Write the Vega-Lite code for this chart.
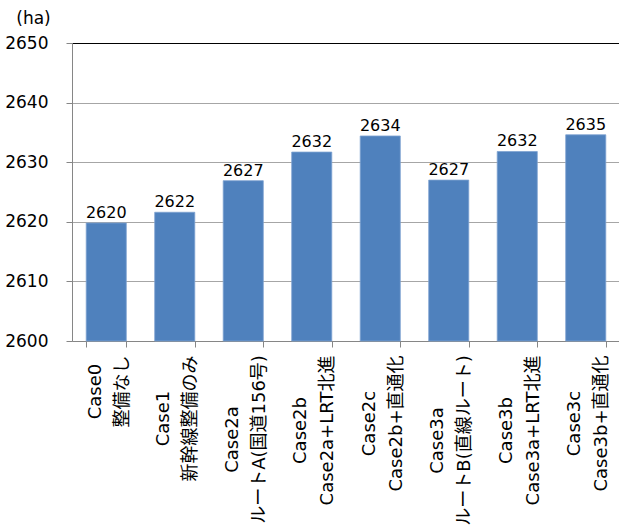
{
  "$schema": "https://vega.github.io/schema/vega-lite/v6.json",
  "width": 548,
  "height": 298,
  "autosize": "none",
  "padding": {"left": 72, "top": 43, "right": 0, "bottom": 190},
  "background": "white",
  "config": {"view": {"stroke": null}},
  "data": {
    "values": [
      {"case": "Case0|整備なし", "value": 2619.8},
      {"case": "Case1|新幹線整備のみ", "value": 2621.6},
      {"case": "Case2a|ルートA(国道156号)", "value": 2626.9},
      {"case": "Case2b|Case2a+LRT北進", "value": 2631.7},
      {"case": "Case2c|Case2b+直通化", "value": 2634.4},
      {"case": "Case3a|ルートB(直線ルート)", "value": 2627.0},
      {"case": "Case3b|Case3a+LRT北進", "value": 2631.8},
      {"case": "Case3c|Case3b+直通化", "value": 2634.6}
    ]
  },
  "encoding": {
    "x": {
      "field": "case",
      "type": "nominal",
      "sort": null,
      "scale": {"paddingInner": 0.415, "paddingOuter": 0.2075},
      "axis": {
        "title": null,
        "ticks": true,
        "tickBand": "extent",
        "tickSize": 6,
        "tickWidth": 1,
        "tickColor": "#868686",
        "domainColor": "#868686",
        "labelAngle": -90,
        "labelAlign": "center",
        "labelBaseline": "middle",
        "labelLineHeight": 27,
        "labelFont": "DejaVu Sans, Noto Sans CJK JP",
        "labelFontSize": 18,
        "labelColor": "black",
        "labelLimit": 0,
        "labelOverlap": false,
        "labelOffset": -11,
        "labelExpr": "split(datum.label, '|')",
        "labelPadding": {
          "condition": [
            {"test": "datum.value == 'Case0|整備なし'", "value": 44},
            {"test": "datum.value == 'Case1|新幹線整備のみ'", "value": 71},
            {"test": "datum.value == 'Case2a|ルートA(国道156号)'", "value": 92},
            {"test": "datum.value == 'Case2b|Case2a+LRT北進'", "value": 83},
            {"test": "datum.value == 'Case2c|Case2b+直通化'", "value": 76},
            {"test": "datum.value == 'Case3a|ルートB(直線ルート)'", "value": 93},
            {"test": "datum.value == 'Case3b|Case3a+LRT北進'", "value": 83}
          ],
          "value": 76
        }
      }
    },
    "y": {
      "field": "value",
      "type": "quantitative",
      "scale": {"domain": [2600, 2650], "nice": false, "zero": false},
      "axis": {
        "title": "(ha)",
        "titleAngle": 0,
        "titleX": -39,
        "titleY": -25,
        "titleAlign": "center",
        "titleBaseline": "middle",
        "titleFont": "DejaVu Sans",
        "titleFontSize": 17,
        "titleFontWeight": "normal",
        "titleColor": "black",
        "values": [2600, 2610, 2620, 2630, 2640, 2650],
        "format": "d",
        "labelFont": "DejaVu Sans",
        "labelFontSize": 17,
        "labelColor": "black",
        "labelPadding": 18,
        "tickSize": 6,
        "tickColor": "#868686",
        "domainColor": "#868686",
        "grid": true,
        "gridColor": {
          "condition": {"test": "datum.value == 2650", "value": "#000000"},
          "value": "#a6a6a6"
        },
        "gridWidth": 1.2
      }
    }
  },
  "layer": [
    {
      "mark": {"type": "bar", "color": "#4f81bd", "stroke": "#7da2d1", "strokeWidth": 0.8},
      "encoding": {"y2": {"datum": 2600}}
    },
    {
      "mark": {"type": "text", "baseline": "alphabetic", "dy": -5, "font": "DejaVu Sans", "fontSize": 16, "color": "black"},
      "encoding": {"text": {"field": "value", "type": "quantitative", "format": ".0f"}}
    }
  ]
}
